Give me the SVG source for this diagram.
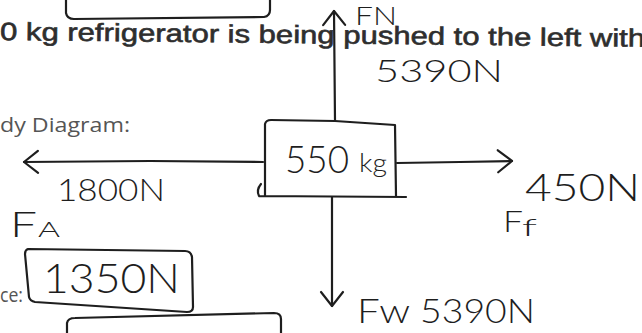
<svg xmlns="http://www.w3.org/2000/svg" width="642" height="333" viewBox="0 0 642 333">
<defs>
<style>
.ink{fill:none;stroke:#1e1e1e;stroke-width:2.2;stroke-linecap:round;stroke-linejoin:round}
.hand{font-family:Lato,Inter,"DejaVu Sans",sans-serif;font-weight:300;fill:#1e1e1e}
.print{font-family:"Liberation Sans",Arial,sans-serif;fill:#2e2e2e;stroke:#2e2e2e;stroke-width:0.6}
.calib{font-family:"Open Sans","Liberation Sans",sans-serif;fill:#555}
</style>
<marker id="head" viewBox="-16 -13 18 26" refX="0" refY="0" markerWidth="18" markerHeight="26" markerUnits="userSpaceOnUse" orient="auto">
<path d="M-14,-11 L0,0 L-14,11" fill="none" stroke="#1e1e1e" stroke-width="2.2" stroke-linecap="round" stroke-linejoin="round"/>
</marker>
</defs>
<rect width="642" height="333" fill="#fff"/>

<!-- printed worksheet text -->
<path class="ink" d="M66,0 L66,13 Q67,19 74,19 L264,17 Q270,16 270,10 L270,0"/>
<text class="print" x="0" y="40" font-size="25" textLength="645" lengthAdjust="spacingAndGlyphs" transform="rotate(0.6 0 40)">0 kg refrigerator is being pushed to the left with</text>
<text class="calib" x="0" y="132" font-size="20" textLength="130" lengthAdjust="spacingAndGlyphs">dy Diagram:</text>
<text class="calib" x="0" y="302" font-size="20" textLength="23" lengthAdjust="spacingAndGlyphs">ce:</text>

<!-- connectors -->
<g id="connectors">
<path class="ink" d="M335,121 L334,11" marker-end="url(#head)"/>
<path class="ink" d="M332,197 L332,306" marker-end="url(#head)"/>
<path class="ink" d="M263,162 L150,161 L24,162" marker-end="url(#head)"/>
<path class="ink" d="M397,163 L460,162 L512,161" marker-end="url(#head)"/>
</g>

<!-- body node -->
<g id="node-body">
<path class="ink" d="M265,196 L265,124 Q266,120 271,120 L335,121 L395,125 L396,196 M259,196 L406,197 M261,184 Q256,190 259,196"/>
<text class="hand" x="285" y="173" font-size="38" textLength="64" lengthAdjust="spacingAndGlyphs">550</text>
<text class="hand" x="359" y="172" font-size="26" textLength="28" lengthAdjust="spacingAndGlyphs">kg</text>
</g>

<!-- force labels -->
<g id="label-normal">
<text class="hand" x="355" y="25" font-size="26" textLength="42" lengthAdjust="spacingAndGlyphs">FN</text>
<text class="hand" x="375" y="82" font-size="31" textLength="128" lengthAdjust="spacingAndGlyphs">5390N</text>
</g>
<g id="label-applied">
<text class="hand" x="57" y="201" font-size="31" textLength="108" lengthAdjust="spacingAndGlyphs">1800N</text>
<text class="hand" x="10" y="237" font-size="36" textLength="27" lengthAdjust="spacingAndGlyphs">F</text>
<text class="hand" x="38" y="237" font-size="22" textLength="22" lengthAdjust="spacingAndGlyphs">A</text>
</g>
<g id="label-friction">
<text class="hand" x="525" y="201" font-size="38" textLength="115" lengthAdjust="spacingAndGlyphs">450N</text>
<text class="hand" x="503" y="232" font-size="30" textLength="20" lengthAdjust="spacingAndGlyphs">F</text>
<text class="hand" x="522" y="236" font-size="24" textLength="15" lengthAdjust="spacingAndGlyphs">f</text>
</g>
<g id="label-weight">
<text class="hand" x="357" y="323" font-size="34" textLength="53" lengthAdjust="spacingAndGlyphs">Fw</text>
<text class="hand" x="420" y="323" font-size="34" textLength="115" lengthAdjust="spacingAndGlyphs">5390N</text>
</g>

<!-- answer box -->
<g id="node-net">
<path class="ink" d="M28,249 Q25,250 25,254 L29,297 Q30,301 35,302 L187,312 Q193,312 193,307 L192,257 Q191,251 185,251 Z"/>
<text class="hand" x="43" y="293" font-size="42" textLength="137" lengthAdjust="spacingAndGlyphs">1350N</text>
</g>

<!-- partial box at bottom -->
<path class="ink" d="M67,333 L67,323 Q68,318 75,318 L274,313 Q281,313 281,319 L281,333"/>
</svg>
